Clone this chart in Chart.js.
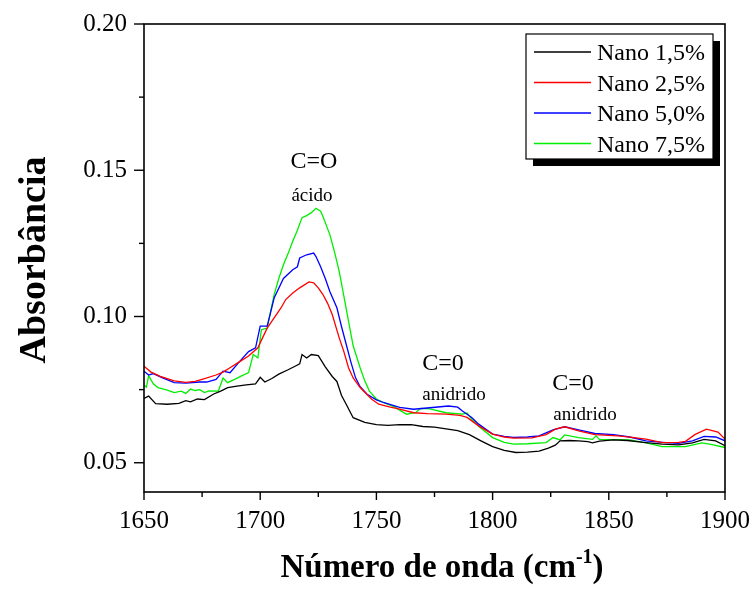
<!DOCTYPE html>
<html>
<head>
<meta charset="utf-8">
<script src="https://cdn.jsdelivr.net/npm/chart.js@4.4.1/dist/chart.umd.min.js"></script>
<style>
  html, body { margin: 0; padding: 0; background: #fff; }
  #wrap { width: 756px; height: 599px; position: relative; }
</style>
</head>
<body>
<div id="wrap"><canvas id="grafico" width="756" height="599"></canvas></div>
<script>
const nombres = ["Nano 1,5%", "Nano 2,5%", "Nano 5,0%", "Nano 7,5%"];
const colores = ["#000000", "#ff0000", "#0000ff", "#00ee00"];

const ondaNano15 = [1650,1652,1655,1660,1665,1668,1670,1673,1676,1680,1683,1686,1690,1694,1698,1700,1702,1705,1708,1712,1715,1717,1718,1720,1722,1725,1728,1731,1733,1735,1737,1740,1745,1750,1755,1760,1765,1770,1775,1780,1785,1790,1795,1800,1805,1810,1815,1820,1824,1827,1829,1833,1837,1841,1843,1846,1852,1858,1866,1873,1880,1886,1891,1896,1900];
const absNano15 = [0.0720,0.0728,0.0702,0.0700,0.0703,0.0712,0.0708,0.0718,0.0716,0.0735,0.0745,0.0757,0.0762,0.0766,0.0770,0.0792,0.0776,0.0788,0.0803,0.0818,0.0830,0.0838,0.0870,0.0858,0.0870,0.0866,0.0828,0.0795,0.0778,0.0730,0.0700,0.0654,0.0638,0.0630,0.0628,0.0630,0.0630,0.0624,0.0622,0.0616,0.0610,0.0596,0.0575,0.0555,0.0542,0.0535,0.0536,0.0540,0.0550,0.0560,0.0575,0.0576,0.0575,0.0572,0.0568,0.0574,0.0578,0.0576,0.0569,0.0564,0.0561,0.0568,0.0580,0.0575,0.0558];

const ondaNano25 = [1650,1653,1657,1663,1668,1672,1675,1681,1684,1687,1691,1695,1699,1701,1703,1706,1709,1711,1714,1717,1721,1723,1725,1727,1729,1731,1734,1736,1738,1740,1743,1748,1751,1756,1760,1766,1772,1780,1786,1789,1794,1800,1805,1809,1817,1823,1827,1831,1837,1844,1854,1860,1866,1873,1880,1883,1887,1892,1897,1900];
const absNano25 = [0.0830,0.0810,0.0795,0.0780,0.0775,0.0778,0.0785,0.0800,0.0810,0.0825,0.0845,0.0865,0.0893,0.0927,0.0960,0.0995,0.1030,0.1058,0.1080,0.1098,0.1118,0.1115,0.1098,0.1075,0.1045,0.1007,0.0927,0.0880,0.0825,0.0790,0.0757,0.0717,0.0700,0.0690,0.0683,0.0671,0.0668,0.0666,0.0662,0.0655,0.0626,0.0598,0.0588,0.0584,0.0585,0.0596,0.0615,0.0623,0.0609,0.0596,0.0592,0.0587,0.0581,0.0569,0.0570,0.0573,0.0596,0.0615,0.0605,0.0581];

const ondaNano50 = [1650,1652,1654,1658,1663,1668,1674,1677,1681,1684,1687,1691,1695,1698,1700,1703,1706,1710,1714,1716,1717,1720,1723,1724,1726,1728,1730,1733,1735,1737,1739,1741,1743,1746,1750,1753,1760,1766,1773,1781,1785,1787,1791,1794,1800,1805,1809,1815,1820,1826,1831,1837,1844,1852,1859,1866,1873,1880,1886,1891,1896,1900];
const absNano50 = [0.0813,0.0800,0.0805,0.0790,0.0774,0.0772,0.0776,0.0776,0.0785,0.0813,0.0808,0.0845,0.0880,0.0893,0.0967,0.0967,0.1063,0.1130,0.1160,0.1170,0.1200,0.1211,0.1217,0.1205,0.1170,0.1130,0.1085,0.1030,0.0965,0.0905,0.0845,0.0791,0.0760,0.0734,0.0715,0.0706,0.0689,0.0683,0.0688,0.0694,0.0690,0.0677,0.0655,0.0632,0.0598,0.0590,0.0587,0.0588,0.0592,0.0612,0.0623,0.0612,0.0600,0.0596,0.0588,0.0575,0.0570,0.0566,0.0575,0.0590,0.0588,0.0575];

const ondaNano75 = [1650,1651,1652,1654,1656,1660,1663,1666,1668,1670,1672,1674,1676,1678,1682,1684,1686,1689,1692,1695,1697,1699,1700.5,1703,1706,1708,1710,1712,1714,1716,1718,1720,1722,1724,1726,1727,1730,1732,1734,1736,1738,1740,1743,1745,1747,1750,1753,1758,1760,1763,1767,1769,1773,1780,1787,1789,1791,1794,1800,1805,1809,1815,1823,1826,1829,1831,1837,1843,1844.5,1846,1859,1866,1873,1883,1890,1894,1900];
const absNano75 = [0.0766,0.0758,0.0797,0.0770,0.0757,0.0748,0.0740,0.0745,0.0737,0.0752,0.0747,0.0750,0.0740,0.0746,0.0745,0.0790,0.0774,0.0785,0.0797,0.0808,0.0870,0.0859,0.0955,0.0960,0.1075,0.1130,0.1177,0.1215,0.1257,0.1295,0.1338,0.1345,0.1355,0.1370,0.1360,0.1342,0.1279,0.1220,0.1154,0.1070,0.0984,0.0900,0.0825,0.0780,0.0745,0.0718,0.0706,0.0690,0.0680,0.0666,0.0672,0.0686,0.0684,0.0671,0.0666,0.0670,0.0649,0.0625,0.0586,0.0570,0.0564,0.0565,0.0569,0.0586,0.0578,0.0595,0.0586,0.0580,0.0592,0.0580,0.0578,0.0568,0.0555,0.0555,0.0568,0.0563,0.0552];

const ticksX = [1650, 1675, 1700, 1725, 1750, 1775, 1800, 1825, 1850, 1875, 1900];
const ticksY = [0.05, 0.075, 0.10, 0.125, 0.15, 0.175, 0.20];

const ondas = [ondaNano15, ondaNano25, ondaNano50, ondaNano75];
const absorbancias = [absNano15, absNano25, absNano50, absNano75];

const fuente = "'Liberation Serif', 'Times New Roman', serif";

function esMayor(v, paso) {
  return Math.abs(v / paso - Math.round(v / paso)) < 1e-6;
}

// marco, ticks, titulos, anotaciones y leyenda
const decoracion = {
  id: "decoracion",
  afterDraw(chart) {
    const ctx = chart.ctx;
    const area = chart.chartArea;
    const sx = chart.scales.x;
    const sy = chart.scales.y;
    ctx.save();
    ctx.strokeStyle = "#000";
    ctx.lineWidth = 1.6;
    ctx.strokeRect(area.left, area.top, area.right - area.left, area.bottom - area.top);

    ctx.lineWidth = 1.4;
    ticksX.forEach((t) => {
      const px = sx.getPixelForValue(t);
      const largo = esMayor(t, 50) ? 8 : 5;
      ctx.beginPath();
      ctx.moveTo(px, area.bottom);
      ctx.lineTo(px, area.bottom + largo);
      ctx.stroke();
    });
    ticksY.forEach((t) => {
      const py = sy.getPixelForValue(t);
      const largo = esMayor(t, 0.05) ? 10 : 5;
      ctx.beginPath();
      ctx.moveTo(area.left, py);
      ctx.lineTo(area.left - largo, py);
      ctx.stroke();
    });

    ctx.fillStyle = "#000";
    // titulo eje x
    ctx.textBaseline = "alphabetic";
    const t1 = "Número de onda (cm";
    ctx.font = "bold 33px " + fuente;
    const w1 = ctx.measureText(t1).width;
    ctx.font = "bold 20px " + fuente;
    const w2 = ctx.measureText("-1").width;
    ctx.font = "bold 33px " + fuente;
    const w3 = ctx.measureText(")").width;
    let x0 = 442 - (w1 + w2 + w3) / 2;
    ctx.textAlign = "left";
    ctx.fillText(t1, x0, 577);
    ctx.font = "bold 20px " + fuente;
    ctx.fillText("-1", x0 + w1, 563);
    ctx.font = "bold 33px " + fuente;
    ctx.fillText(")", x0 + w1 + w2, 577);

    // titulo eje y
    ctx.save();
    ctx.translate(45, 260);
    ctx.rotate(-Math.PI / 2);
    ctx.textAlign = "center";
    ctx.font = "bold 38px " + fuente;
    ctx.fillText("Absorbância", 0, 0);
    ctx.restore();

    // anotaciones
    ctx.textAlign = "center";
    ctx.font = "24px " + fuente;
    ctx.fillText("C=O", 314, 168);
    ctx.fillText("C=0", 443, 370);
    ctx.fillText("C=0", 573, 390);
    ctx.font = "19px " + fuente;
    ctx.fillText("ácido", 312, 201);
    ctx.fillText("anidrido", 454, 400);
    ctx.fillText("anidrido", 585, 420);

    // leyenda
    const lx = 526, ly = 34, lw = 187, lh = 125;
    ctx.fillStyle = "#000";
    ctx.fillRect(lx + 7, ly + 7, lw, lh);
    ctx.fillStyle = "#fff";
    ctx.fillRect(lx, ly, lw, lh);
    ctx.strokeStyle = "#000";
    ctx.lineWidth = 1.2;
    ctx.strokeRect(lx, ly, lw, lh);
    ctx.textAlign = "left";
    ctx.font = "24px " + fuente;
    chart.data.datasets.forEach((ds, i) => {
      const yy = 52 + i * 30.5;
      ctx.strokeStyle = ds.borderColor;
      ctx.lineWidth = 1.3;
      ctx.beginPath();
      ctx.moveTo(534, yy);
      ctx.lineTo(591, yy);
      ctx.stroke();
      ctx.fillStyle = "#000";
      ctx.fillText(ds.label, 597, yy + 8);
    });
    ctx.restore();
  },
};

const datasets = nombres.map((nombre, i) => ({
  label: nombre,
  data: ondas[i].map((x, j) => ({ x: x, y: absorbancias[i][j] })),
  borderColor: colores[i],
  borderWidth: 1.3,
  pointRadius: 0,
  tension: 0,
  fill: false,
}));

new Chart(document.getElementById("grafico").getContext("2d"), {
  type: "line",
  data: { datasets: datasets },
  options: {
    responsive: false,
    animation: false,
    layout: { padding: { top: 22, right: 16, left: 0, bottom: 0 } },
    plugins: {
      legend: { display: false },
      tooltip: { enabled: false },
    },
    scales: {
      x: {
        type: "linear",
        min: 1650,
        max: 1900,
        afterBuildTicks: (s) => { s.ticks = ticksX.map((v) => ({ value: v })); },
        afterFit: (s) => { s.height = 107; },
        grid: { display: false },
        border: { display: false },
        ticks: {
          color: "#000",
          padding: 6,
          maxRotation: 0,
          autoSkip: false,
          font: { family: fuente, size: 25 },
          callback: (v) => (esMayor(v, 50) ? String(v) : ""),
        },
      },
      y: {
        min: 0.04,
        max: 0.20,
        afterBuildTicks: (s) => { s.ticks = ticksY.map((v) => ({ value: v })); },
        afterFit: (s) => { s.width = 144; },
        grid: { display: false },
        border: { display: false },
        ticks: {
          color: "#000",
          padding: 9,
          autoSkip: false,
          font: { family: fuente, size: 25 },
          callback: (v) => (esMayor(v, 0.05) ? v.toFixed(2) : ""),
        },
      },
    },
  },
  plugins: [decoracion],
});
</script>
</body>
</html>
